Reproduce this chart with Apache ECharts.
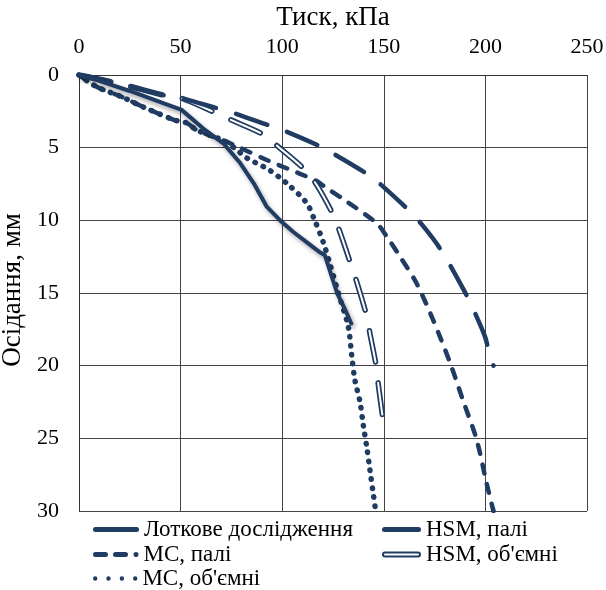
<!DOCTYPE html>
<html>
<head>
<meta charset="utf-8">
<script src="https://cdn.jsdelivr.net/npm/echarts@6/dist/echarts.min.js"></script>
<style>
html,body{margin:0;padding:0;background:#fff;}
#chart{width:606px;height:590px;}
</style>
</head>
<body>
<div id="chart"></div>
<script>
// ---- data (pressure kPa, settlement mm) ----
const xTicks = [0, 50, 100, 150, 200, 250];
const yTicks = [0, 5, 10, 15, 20, 25, 30];

const trayX = [0, 10, 25, 50.5, 61, 71, 79, 86, 92.4, 99.7, 105.5, 112, 118.6, 121, 124, 127, 130.5, 134];
const trayY = [0, 0.4, 1.1, 2.4, 3.67, 4.7, 6.0, 7.45, 9.06, 10.1, 10.8, 11.5, 12.2, 12.4, 13.7, 15.0, 16.0, 17.1];

const hsmPileX = [0, 20, 42, 50.5, 67, 75.8, 93, 100.4, 117, 125, 140, 146.5, 159.6, 165.4, 171, 176, 181, 189, 193, 199.8, 202, 204];
const hsmPileY = [0, 0.6, 1.4, 1.6, 2.25, 2.6, 3.44, 3.8, 4.8, 5.4, 6.65, 7.3, 8.95, 9.75, 10.67, 11.6, 12.7, 14.7, 15.8, 18.0, 19.2, 20.0];

const mcPileX = [0, 5, 10, 21, 31.6, 47, 53, 58, 71, 80, 92.4, 108.8, 117, 121, 131.7, 146.5, 151.4, 158, 166, 174.4, 182.6, 189, 195.7, 200.6, 203.6, 204];
const mcPileY = [0, 0.5, 0.9, 1.5, 2.2, 3.1, 3.3, 3.8, 4.5, 5.05, 5.85, 6.8, 7.3, 7.7, 8.7, 10.2, 11.1, 12.5, 14.3, 16.9, 19.8, 22.4, 25.1, 28.1, 29.8, 30];

const hsmVolX = [0, 20, 42, 50.5, 67.8, 75, 90.7, 98, 111, 117, 125, 128.4, 133, 136.6, 141.6, 143.2, 146.5, 147.3, 149.8];
const hsmVolY = [0, 0.6, 1.4, 1.6, 2.64, 3.1, 4.1, 4.93, 6.5, 7.57, 9.6, 10.8, 12.7, 14.2, 16.6, 17.8, 20.2, 21.3, 23.9];

const mcVolX = [0, 5, 10, 21, 31.6, 47, 53, 58, 71, 76.8, 82.5, 93.2, 102.2, 112, 116, 120.2, 123.5, 127.6, 132.5, 134.2, 135.8, 138.3, 139.9, 141.6, 143.2, 144.8, 145.7];
const mcVolY = [0, 0.5, 0.9, 1.5, 2.2, 3.1, 3.3, 3.8, 4.5, 5.05, 5.7, 6.5, 7.45, 8.8, 10.0, 11.5, 13.0, 15.0, 17.3, 19.3, 21.0, 22.5, 24.1, 25.6, 27.2, 28.8, 29.7];

const names = ['Лоткове дослідження', 'HSM, палі', 'МС, палі', 'HSM, об\'ємні', 'МС, об\'ємні'];

const pair = (xs, ys) => xs.map((x, i) => [x, ys[i]]);
const C = '#203c62';
const FONT = 'Liberation Serif';

// legend icon shapes
const barIcon = w => `path://M2.5,0 L${w - 2.5},0 A2.5,2.5 0 0 1 ${w - 2.5},5 L2.5,5 A2.5,2.5 0 0 1 2.5,0 Z`;
const dashIcon = 'path://M2.5,0 L12.5,0 A2.5,2.5 0 0 1 12.5,5 L2.5,5 A2.5,2.5 0 0 1 2.5,0 Z ' +
  'M22.5,0 L32.5,0 A2.5,2.5 0 0 1 32.5,5 L22.5,5 A2.5,2.5 0 0 1 22.5,0 Z ' +
  'M40.5,2.5 A2.5,2.5 0 1 0 45.5,2.5 A2.5,2.5 0 1 0 40.5,2.5 Z';
const dotIcon = 'path://' + [0, 13.3, 26.7, 40].map(c =>
  `M${c},2.2 A2.2,2.2 0 1 0 ${c + 4.4},2.2 A2.2,2.2 0 1 0 ${c},2.2 Z`).join(' ');
const dblIcon = 'path://M3,0 L36,0 A3,3 0 0 1 36,6 L3,6 A3,3 0 0 1 3,0 Z M3,2 A1,1 0 0 0 3,4 L36,4 A1,1 0 0 0 36,2 Z';

function leg(name, icon, left, top, w, h) {
  return {
    left: left, top: top, itemWidth: w, itemHeight: h, icon: icon,
    itemStyle: { color: C, borderWidth: 0 }, lineStyle: { width: 0 },
    textStyle: { fontFamily: FONT, fontSize: 23, color: '#000' },
    data: [name], selectedMode: false
  };
}

const chart = echarts.init(document.getElementById('chart'));
chart.setOption({
  animation: false,
  backgroundColor: '#fff',
  grid: { left: 79, right: 19, top: 75, bottom: 79, containLabel: false, outerBoundsMode: 'none' },
  xAxis: {
    type: 'value', position: 'top', min: 0, max: 250, interval: 50,
    name: 'Тиск, кПа', nameLocation: 'middle', nameGap: 35,
    nameTextStyle: { fontFamily: FONT, fontSize: 27, color: '#000' },
    axisLine: { show: true, lineStyle: { color: '#333', width: 1 } },
    axisTick: { show: false },
    axisLabel: { fontFamily: FONT, fontSize: 22, color: '#000', margin: 17 },
    splitLine: { show: true, lineStyle: { color: '#444', width: 1 } }
  },
  yAxis: {
    type: 'value', inverse: true, min: 0, max: 30, interval: 5,
    name: 'Осідання, мм', nameLocation: 'middle', nameGap: 44,
    nameTextStyle: { fontFamily: FONT, fontSize: 27, color: '#000', padding: [0, 0, 0, 6] },
    axisLine: { show: true, onZero: false, lineStyle: { color: '#333', width: 1 } },
    axisTick: { show: false },
    axisLabel: { fontFamily: FONT, fontSize: 22, color: '#000', margin: 20 },
    splitLine: { show: true, lineStyle: { color: '#444', width: 1 } }
  },
  legend: [
    leg(names[0], barIcon(46), 88, 513, 46, 5),
    leg(names[2], dashIcon, 88, 538, 45.5, 5),
    leg(names[4], dotIcon, 88, 562, 44.4, 4.4),
    leg(names[1], barIcon(39), 377, 513, 39, 5),
    leg(names[3], dblIcon, 377, 538, 39, 6)
  ],
  series: [
    {
      name: names[4], type: 'line', data: pair(mcVolX, mcVolY), showSymbol: false, symbol: 'none', smooth: 0.3,
      lineStyle: { color: C, width: 5.5, type: [0.5, 8.5], cap: 'round' }, itemStyle: { color: C }
    },
    {
      name: names[2], type: 'line', data: pair(mcPileX, mcPileY), showSymbol: false, symbol: 'none', smooth: 0.3,
      lineStyle: { color: C, width: 4.5, type: [9, 11], cap: 'round' }, itemStyle: { color: C }
    },
    {
      name: names[3], type: 'line', data: pair(hsmVolX, hsmVolY), showSymbol: false, symbol: 'none', smooth: 0.3,
      lineStyle: { color: C, width: 5.5, type: [32, 21], cap: 'round' }, itemStyle: { color: C }
    },
    {
      name: 'hsmVolInner', type: 'line', data: pair(hsmVolX, hsmVolY), showSymbol: false, symbol: 'none', smooth: 0.3,
      lineStyle: { color: '#fff', width: 2, type: [32, 21], cap: 'round' }, itemStyle: { color: '#fff' }
    },
    {
      name: names[1], type: 'line', data: pair(hsmPileX, hsmPileY), showSymbol: false, symbol: 'none', smooth: 0.3,
      lineStyle: { color: C, width: 4.5, type: [33, 21], cap: 'round' }, itemStyle: { color: C }
    },
    {
      name: names[0], type: 'line', data: pair(trayX, trayY), showSymbol: false, symbol: 'none',
      lineStyle: { color: C, width: 4, type: 'solid', cap: 'round', join: 'round',
        shadowColor: 'rgba(0,0,0,0.35)', shadowBlur: 4, shadowOffsetX: 2, shadowOffsetY: 3 },
      itemStyle: { color: C }
    }
  ]
});
</script>
</body>
</html>
